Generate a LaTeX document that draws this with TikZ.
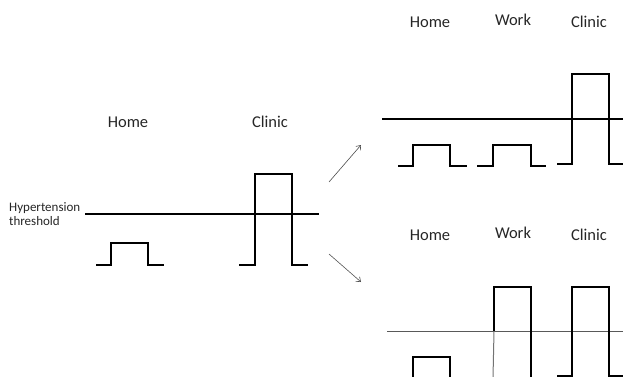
\documentclass[tikz,border=0pt]{standalone}
\usepackage{fontspec}
\setmainfont{Carlito}
\usetikzlibrary{arrows.meta}
\begin{document}
\begin{tikzpicture}[x=1pt,y=-1pt,
  lbl/.style={font=\fontsize{16.5}{18}\selectfont, text=black!85, inner sep=0pt, anchor=base},
  small/.style={font=\fontsize{13}{14}\selectfont, text=black!85, inner sep=0pt, align=left, anchor=north west},
  pulse/.style={line width=1.1pt, black},
  thr/.style={line width=1.05pt, black},
  thrgray/.style={line width=0.9pt, black!65},
  arr/.style={line width=0.6pt, black!70, -{Straight Barb[length=4pt,width=6pt]}}]
\useasboundingbox (0,0) rectangle (623,377);
% ---- left panel
\node[lbl] (lhome) at (128,128) {Home};
\node[lbl] (lclinic) at (270,128) {Clinic};
\node[small] (hyp) at (9,202) {Hypertension\\threshold};
\draw[thr] (85,214) -- (319,214);
\draw[pulse] (96,265) -- (111,265) -- (111,243) -- (148,243) -- (148,265) -- (164,265);
\draw[pulse] (239,265) -- (255,265) -- (255,174) -- (292,174) -- (292,265) -- (308,265);
% ---- arrows
\coordinate (a1s) at (329,182); \coordinate (a1e) at (361,145);
\coordinate (a2s) at (329,254); \coordinate (a2e) at (361,282);
\draw[arr] (a1s) -- (a1e);
\draw[arr] (a2s) -- (a2e);
% ---- top right panel
\node[lbl] (thome) at (430,28) {Home};
\node[lbl] (twork) at (513,26) {Work};
\node[lbl] (tclinic) at (589,28) {Clinic};
\draw[thr] (382,119) -- (623,119);
\draw[pulse] (398,166) -- (413,166) -- (413,145) -- (450,145) -- (450,166) -- (467,166);
\draw[pulse] (477,166) -- (493,166) -- (493,145) -- (531,145) -- (531,166) -- (546,166);
\draw[pulse] (557,164) -- (572,164) -- (572,74) -- (609,74) -- (609,164) -- (624,164);
% ---- bottom right panel
\node[lbl] (bhome) at (430,240) {Home};
\node[lbl] (bwork) at (513,238) {Work};
\node[lbl] (bclinic) at (589,240) {Clinic};
\draw[thrgray] (387,331) -- (623,331);
\draw[pulse] (413,378) -- (413,357) -- (450,357) -- (450,378);
\draw[line width=1pt, black!55] (494,331) -- (493,378);
\draw[pulse] (494,331) -- (494,287) -- (531,287) -- (531,378);
\draw[pulse] (557,376) -- (572,376) -- (572,287) -- (609,287) -- (609,376) -- (624,376);
\end{tikzpicture}
\end{document}
